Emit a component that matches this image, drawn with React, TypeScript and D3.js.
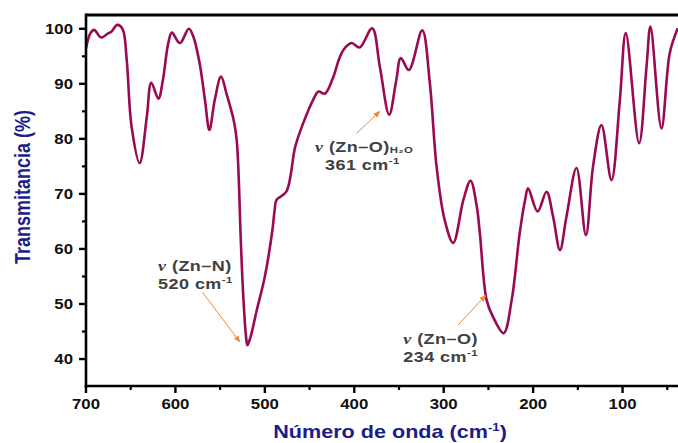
import React from 'react';
import * as d3 from 'd3';

// IR spectrum: wavenumber (cm-1) and transmittance (%)
const wavenumber = [
  700, 695, 691, 683, 675, 672, 665, 659, 654.5, 649, 640, 632, 627, 619, 614, 608, 604, 595, 585, 580,
  573, 567, 562, 556, 549, 543, 535, 531.5, 529, 527, 524, 521, 519.5, 516, 509, 500, 492, 489, 487, 476,
  466, 457, 446, 440, 433, 424, 417, 412, 403, 394, 380, 371.4, 361, 353, 348, 339, 324, 315.5, 308, 299,
  289.4, 278, 270, 263, 259.6, 252, 245, 233, 224, 215, 209, 205.6, 195, 185, 177.7, 170, 162.7, 151.5, 141, 133,
  123.6, 112.4, 103, 96.4, 81.5, 73.2, 68.8, 56.5, 47.2, 38.3,
];
const transmittance = [
  96.5, 99.2, 99.8, 98.4, 99.2, 99.4, 100.7, 99.9, 94.4, 82.2, 75.6, 84, 90.2, 87.3, 90.7, 97.4, 99.3, 97.4, 100, 98.6,
  93.8, 87.1, 81.6, 87.1, 91.3, 88.3, 83.5, 79.8, 72, 62, 51, 44, 42.5, 44, 48.9, 55, 62.9, 67.1, 68.9, 70.4,
  78.6, 82.9, 87.1, 88.6, 88.2, 91, 94.5, 96.2, 97.4, 96.6, 100.1, 93.1, 84.4, 90.7, 94.7, 92.5, 99.7, 90.1, 75, 65.3,
  61.1, 68.9, 72.4, 67.7, 62.9, 50.7, 47.7, 44.7, 50.7, 62.9, 68.9, 71, 66.8, 70.4, 65.9, 59.8, 65.9, 74.7, 62.5, 75,
  82.5, 72.5, 87.1, 99.2, 79.2, 93.1, 100.4, 81.9, 95.6, 100.1,
];

const xMajorTicks = [700, 600, 500, 400, 300, 200, 100];
const xMinorTicks = [650, 550, 450, 350, 250, 150, 50];
const yMajorTicks = [40, 50, 60, 70, 80, 90, 100];
const yMinorTicks = [45, 55, 65, 75, 85, 95];

// band annotations: tip / tail of arrow and label anchor, in data units
const annotations = [
  { mode: 'Zn–N', sub: '', value: '520', tip: [527.9, 43.1], tail: [569.6, 52.1], label: [619.5, 56.0], label2: [619.5, 52.7] },
  { mode: 'Zn–O', sub: 'H₂O', value: '361', tip: [371.4, 85.0], tail: [397.4, 81.0], label: [444, 77.6], label2: [432.8, 74.4] },
  { mode: 'Zn–O', sub: '', value: '234', tip: [252.9, 51.6], tail: [283.8, 46.2], label: [345.3, 42.7], label2: [345.3, 39.5] },
];

const W = 678;
const H = 443;
const SX = 1.2; // the original picture is stretched sideways
const FONT = 'Arial, "Liberation Sans", sans-serif';
const LINE = '#990a52';
const TITLE = '#1c1c8a';
const NOTE = '#404040';
const ARROW = '#f0883a';

const St = ({ x, y, anchor = 'start', size = 14, fill = '#111', spacing = 0, children }: any) => (
  <text
    transform={`translate(${x},${y}) scale(${SX},1)`}
    textAnchor={anchor}
    fontFamily={FONT}
    fontWeight="bold"
    fontSize={size}
    letterSpacing={spacing}
    fill={fill}
  >
    {children}
  </text>
);

export default function App() {
  const x = d3.scaleLinear().domain([700, 38]).range([86, 678]);
  const y = d3.scaleLinear().domain([35.1, 102.5]).range([386, 15]);
  const x0 = x(700);
  const y0 = y(35.1);
  const yTop = y(102.5);

  const pts = wavenumber.map((w, i) => [w, transmittance[i]] as [number, number]);
  const line = d3
    .line<[number, number]>()
    .x((d) => x(d[0]))
    .y((d) => y(d[1]))
    .curve(d3.curveCatmullRom.alpha(0.5));

  return (
    <svg width={W} height={H} style={{ position: 'absolute', left: 0, top: 0, background: '#fff' }}>
      <defs>
        <marker id="ah" viewBox="0 0 10 10" refX="9" refY="5" markerWidth="7" markerHeight="7" orient="auto">
          <path d="M0,1 L10,5 L0,9 Z" fill={ARROW} />
        </marker>
      </defs>

      {/* spectrum */}
      <path d={line(pts) || ''} fill="none" stroke={LINE} strokeWidth={2.6} strokeLinejoin="round" />

      {/* frame */}
      <line x1={x0} x2={W} y1={yTop} y2={yTop} stroke="#000" strokeWidth={3} />
      <line x1={x0} x2={x0} y1={yTop - 1.5} y2={y0 + 1.5} stroke="#000" strokeWidth={2.6} />
      <line x1={x0 - 1.3} x2={W} y1={y0} y2={y0} stroke="#000" strokeWidth={2.6} />

      {/* x ticks */}
      {xMajorTicks.map((t) => (
        <g key={'xm' + t}>
          <line x1={x(t)} x2={x(t)} y1={y0} y2={y0 + 7} stroke="#000" strokeWidth={2.4} />
          <St x={x(t)} y={409} anchor="middle">{t}</St>
        </g>
      ))}
      {xMinorTicks.map((t) => (
        <line key={'xn' + t} x1={x(t)} x2={x(t)} y1={y0} y2={y0 + 4} stroke="#000" strokeWidth={2.2} />
      ))}

      {/* y ticks */}
      {yMajorTicks.map((t) => (
        <g key={'ym' + t}>
          <line x1={x0 - 7} x2={x0} y1={y(t)} y2={y(t)} stroke="#000" strokeWidth={2.4} />
          <St x={73} y={y(t) + 5} anchor="end">{t}</St>
        </g>
      ))}
      {yMinorTicks.map((t) => (
        <line key={'yn' + t} x1={x0 - 4} x2={x0} y1={y(t)} y2={y(t)} stroke="#000" strokeWidth={2.2} />
      ))}

      {/* axis titles */}
      <St x={390} y={438} anchor="middle" size={18} fill={TITLE}>
        Número de onda (cm
        <tspan fontSize={11} dy={-7}>-1</tspan>
        <tspan dy={7}>)</tspan>
      </St>
      <text
        transform={`translate(30,187) scale(${SX},1) rotate(-90)`}
        textAnchor="middle"
        fontFamily={FONT}
        fontWeight="bold"
        fontSize={18}
        fill={TITLE}
      >
        Transmitancia (%)
      </text>

      {/* annotations */}
      {annotations.map((a, i) => (
        <g key={'an' + i}>
          <line
            x1={x(a.tail[0])}
            y1={y(a.tail[1])}
            x2={x(a.tip[0])}
            y2={y(a.tip[1])}
            stroke={ARROW}
            strokeWidth={1}
            markerEnd="url(#ah)"
          />
          <St x={x(a.label[0])} y={y(a.label[1])} size={15} spacing={0.4} fill={NOTE}>
            <tspan fontFamily='"Liberation Serif", "Times New Roman", serif' fontStyle="italic">ν</tspan>
            {' (' + a.mode + ')'}
            {a.sub && <tspan fontSize={9.5} dy={1}>{a.sub}</tspan>}
          </St>
          <St x={x(a.label2[0])} y={y(a.label2[1])} size={15} spacing={0.4} fill={NOTE}>
            {a.value + ' cm'}
            <tspan fontSize={9.5} dy={-6}>-1</tspan>
          </St>
        </g>
      ))}
    </svg>
  );
}
